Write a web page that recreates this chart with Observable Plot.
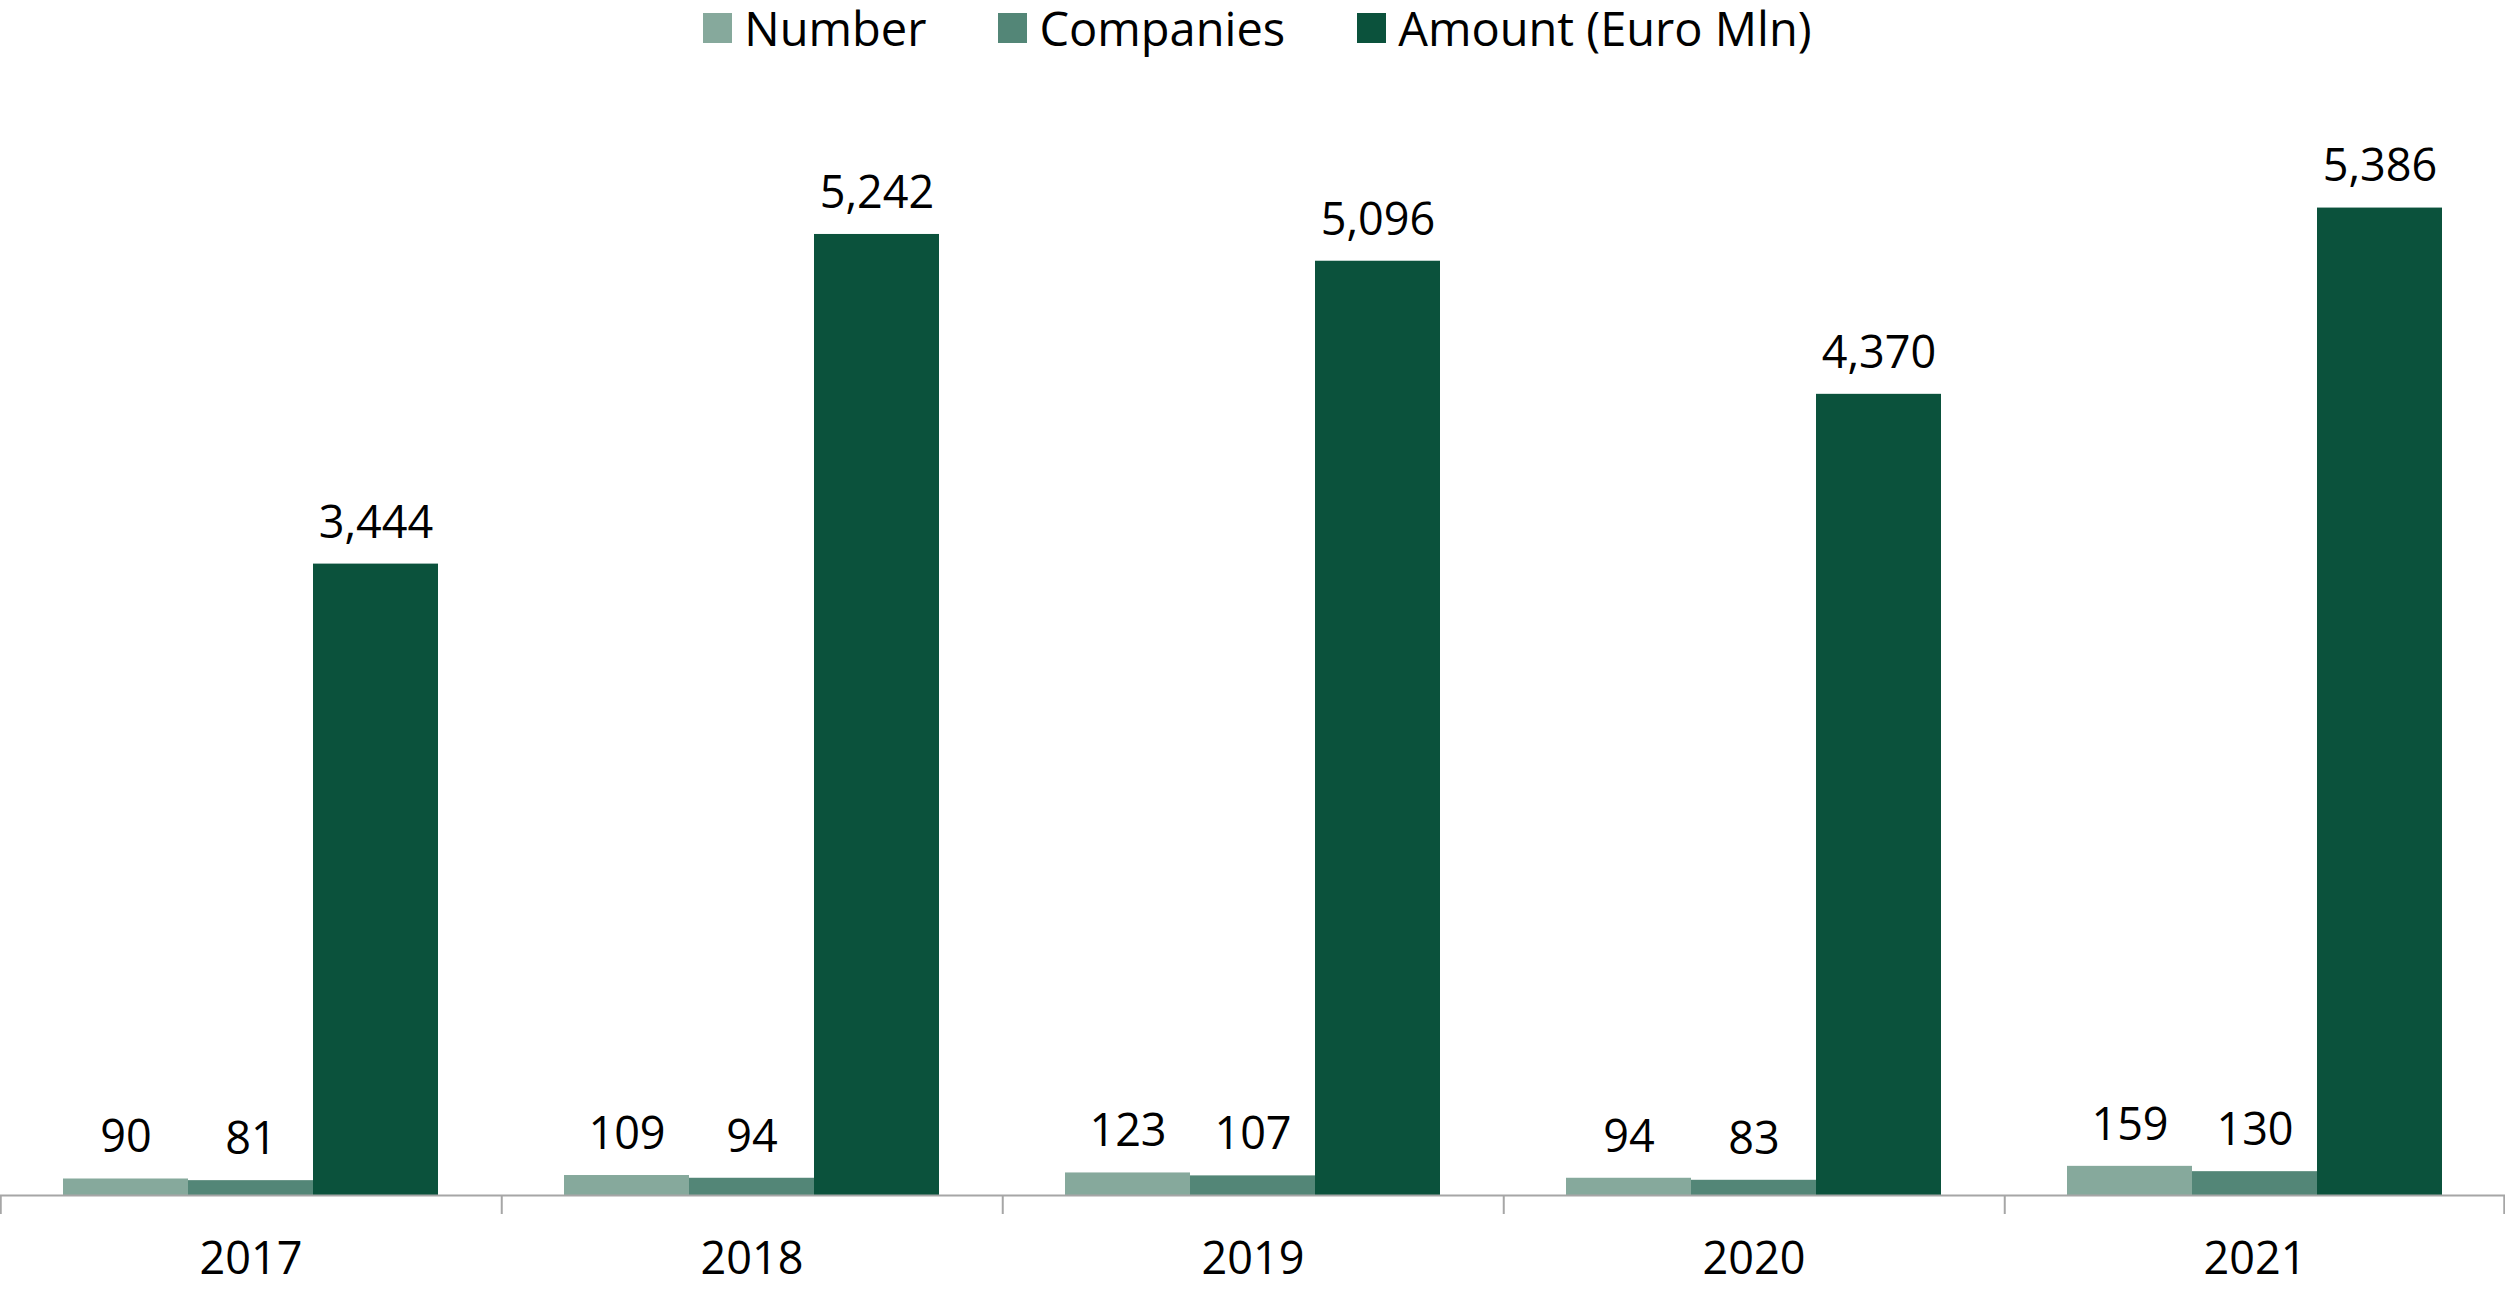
<!DOCTYPE html>
<html>
<head>
<meta charset="utf-8">
<script src="https://cdn.jsdelivr.net/npm/d3@7"></script>
<script src="https://cdn.jsdelivr.net/npm/@observablehq/plot@0.6"></script>
<style>
  html, body { margin: 0; padding: 0; background: #ffffff; }
  body { width: 2505px; height: 1291px; overflow: hidden; font-family: "Open Sans", sans-serif; }
  #legend { height: 56px; display: flex; justify-content: center; align-items: center; gap: 72px; font-size: 47px; color: #000; padding-left: 10px; box-sizing: border-box; }
  .item { display: flex; align-items: center; gap: 12px; }
  .sw { width: 29px; height: 30px; display: inline-block; }
  #chart svg { display: block; }
</style>
</head>
<body>
<div id="legend"></div>
<div id="chart"></div>
<script>
const years = ["2017", "2018", "2019", "2020", "2021"];
const series = ["Number", "Companies", "Amount (Euro Mln)"];
const numberValues = [90, 109, 123, 94, 159];
const companiesValues = [81, 94, 107, 83, 130];
const amountValues = [3444, 5242, 5096, 4370, 5386];
const colors = ["#86a99c", "#538677", "#0b523c"];

const valuesBySeries = [numberValues, companiesValues, amountValues];
const data = [];
years.forEach((yr, i) => {
  series.forEach((s, j) => data.push({year: yr, series: s, value: valuesBySeries[j][i]}));
});

// legend
const legend = document.getElementById("legend");
series.forEach((s, j) => {
  const item = document.createElement("div");
  item.className = "item";
  const sw = document.createElement("span");
  sw.className = "sw";
  sw.style.background = colors[j];
  const t = document.createElement("span");
  t.textContent = s;
  item.appendChild(sw); item.appendChild(t);
  legend.appendChild(item);
});

const W = 2505, H = 1235;
const step = W / years.length / 4;
const leftTicks = years.map(y => ({year: y, key: series[0]}));
const rightTick = [{year: years[years.length - 1], key: series[2]}];

const chart = Plot.plot({
  width: W,
  height: H,
  marginLeft: 0,
  marginRight: 0,
  marginTop: 39,
  marginBottom: 96,
  style: {fontFamily: "Open Sans, sans-serif", fontSize: "45px", color: "#000", background: "#fff"},
  fx: {domain: years, padding: 0, label: null, axis: "bottom", tickSize: 0, tickPadding: 47},
  x: {domain: series, paddingInner: 0, paddingOuter: 0.5, axis: null},
  y: {domain: [0, 6000], axis: null},
  color: {domain: series, range: colors},
  marks: [
    Plot.barY(data, {fx: "year", x: "series", y: "value", fill: "series"}),
    Plot.ruleY([0], {stroke: "#a6a6a6", strokeWidth: 2}),
    Plot.ruleX(leftTicks, {fx: "year", x: "key", y1: 0, y2: 0, insetBottom: -19, dx: -step, stroke: "#a6a6a6", strokeWidth: 2}),
    Plot.ruleX(rightTick, {fx: "year", x: "key", y1: 0, y2: 0, insetBottom: -19, dx: step - 1, stroke: "#a6a6a6", strokeWidth: 2}),
    Plot.text(data, {fx: "year", x: "series", y: "value", text: d => d3.format(",")(d.value), dy: -41, fill: "#000", fontSize: 45, lineAnchor: "middle"})
  ]
});
document.getElementById("chart").appendChild(chart);
</script>
</body>
</html>
